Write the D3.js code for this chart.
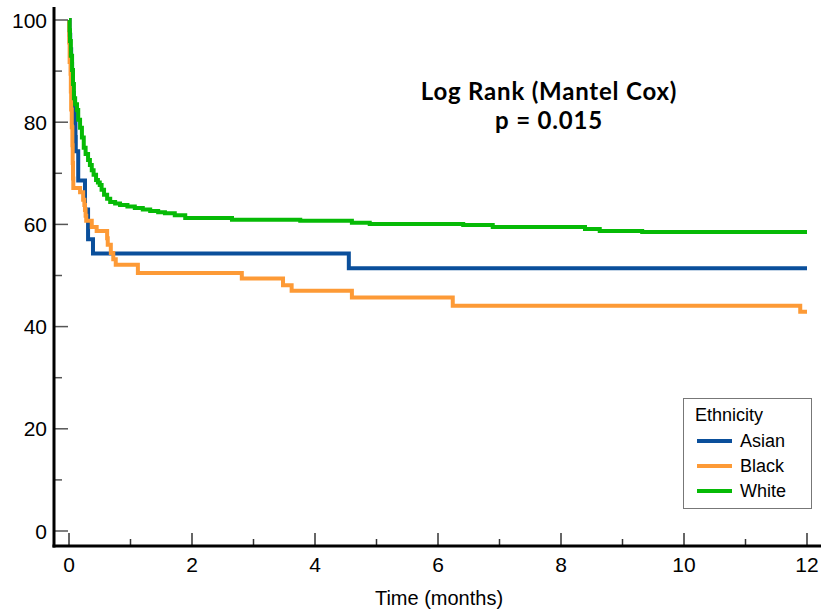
<!DOCTYPE html>
<html>
<head>
<meta charset="utf-8">
<script src="https://cdn.jsdelivr.net/npm/d3@7"></script>
<style>
  body { margin: 0; background: #fff; }
  svg { display: block; }
</style>
</head>
<body>
<div id="chart"></div>
<script>
// Kaplan-Meier steps: time (months) and survival (%) right after each step
var asianTime = [0, 0.01, 0.02, 0.035, 0.05, 0.065, 0.08, 0.095, 0.105, 0.11, 0.15, 0.26, 0.31, 0.39, 4.55, 12];
var asianSurv = [100, 97.1, 94.3, 91.4, 88.6, 85.7, 82.9, 80.0, 77.1, 74.3, 68.6, 62.9, 57.1, 54.3, 51.4, 51.4];

var blackTime = [0, 0.003, 0.01, 0.025, 0.03, 0.035, 0.045, 0.055, 0.06, 0.065, 0.07, 0.18, 0.23, 0.25, 0.26, 0.27, 0.28, 0.37, 0.45, 0.62, 0.63, 0.68, 0.72, 0.76, 1.12, 2.81, 3.48, 3.62, 4.60, 6.24, 11.89, 12];
var blackSurv = [100, 95.6, 91.8, 89.5, 86.0, 82.5, 79.0, 75.5, 72.0, 69.0, 67.1, 66.3, 64.8, 63.8, 62.8, 61.7, 60.7, 59.5, 58.7, 57.3, 56.0, 54.4, 53.2, 52.1, 50.5, 49.4, 48.1, 47.0, 45.7, 44.1, 42.9, 42.9];

var whiteTime = [0, 0.01, 0.016, 0.03, 0.05, 0.065, 0.08, 0.10, 0.13, 0.15, 0.18, 0.21, 0.24, 0.27, 0.31, 0.34, 0.37, 0.40, 0.44, 0.47, 0.50, 0.53, 0.57, 0.62, 0.67, 0.75, 0.83, 0.95, 1.07, 1.2, 1.32, 1.45, 1.56, 1.72, 1.89, 2.65, 3.76, 4.60, 4.89, 6.41, 6.89, 8.39, 8.63, 9.32, 12];
var whiteSurv = [100, 98, 95.9, 93, 90.2, 87.5, 84.7, 83.5, 82.4, 80.5, 78.9, 77, 75, 73.8, 72.6, 71.6, 70.6, 69.7, 68.7, 68.2, 67.7, 66.8, 65.8, 65.0, 64.4, 64.1, 63.8, 63.5, 63.2, 62.9, 62.6, 62.4, 62.2, 61.8, 61.25, 60.9, 60.7, 60.3, 60.1, 59.9, 59.5, 59.1, 58.7, 58.5, 58.5];

var groups = ["Asian", "Black", "White"];
var colors = ["#0a4f9b", "#fd9a36", "#06ba06"];
var xTicks = [0, 2, 4, 6, 8, 10, 12];
var yTicks = [0, 20, 40, 60, 80, 100];

var width = 821, height = 611;

var x = d3.scaleLinear().domain([0, 12]).range([69, 807]);
var y = d3.scaleLinear().domain([0, 100]).range([531, 20]);

var svg = d3.select("#chart").append("svg")
    .attr("width", width)
    .attr("height", height)
    .style("font-family", "'Liberation Sans', Arial, sans-serif");

// -- curves (blue under orange, green on top)
var series = [
  { name: "Asian", t: asianTime, s: asianSurv },
  { name: "Black", t: blackTime, s: blackSurv },
  { name: "White", t: whiteTime, s: whiteSurv }
];

var line = d3.line()
    .x(function(d) { return x(d[0]); })
    .y(function(d) { return y(d[1]); })
    .curve(d3.curveStepAfter);

svg.selectAll("path.km")
    .data(series)
  .enter().append("path")
    .attr("class", "km")
    .attr("fill", "none")
    .attr("stroke", function(d, i) { return colors[i]; })
    .attr("stroke-width", 4)
    .attr("d", function(d) { return line(d3.zip(d.t, d.s)); });

// -- y axis (ticks point inward)
var yMinor = d3.range(0, 101, 10);
svg.append("g").selectAll("line")
    .data(yMinor)
  .enter().append("line")
    .attr("x1", 54)
    .attr("x2", function(d) { return d % 20 === 0 ? 68 : 62; })
    .attr("y1", function(d) { return y(d); })
    .attr("y2", function(d) { return y(d); })
    .attr("stroke", "#555")
    .attr("stroke-width", 1.5);

svg.append("g").selectAll("text")
    .data(yTicks)
  .enter().append("text")
    .attr("x", 47)
    .attr("y", function(d) { return y(d); })
    .attr("dy", "0.36em")
    .attr("text-anchor", "end")
    .attr("font-size", 21)
    .text(function(d) { return d; });

// -- x axis (ticks point up)
var xMinor = d3.range(0, 13, 1);
svg.append("g").selectAll("line")
    .data(xMinor)
  .enter().append("line")
    .attr("x1", function(d) { return x(d); })
    .attr("x2", function(d) { return x(d); })
    .attr("y1", 546)
    .attr("y2", function(d) { return d % 2 === 0 ? 533 : 539; })
    .attr("stroke", "#333")
    .attr("stroke-width", 1.5);

svg.append("g").selectAll("text")
    .data(xTicks)
  .enter().append("text")
    .attr("x", function(d) { return x(d); })
    .attr("y", 572)
    .attr("text-anchor", "middle")
    .attr("font-size", 21)
    .text(function(d) { return d; });

svg.append("line")
    .attr("x1", 54).attr("x2", 54)
    .attr("y1", 7).attr("y2", 547.5)
    .attr("stroke", "#000").attr("stroke-width", 3);
svg.append("line")
    .attr("x1", 52.5).attr("x2", 821)
    .attr("y1", 546).attr("y2", 546)
    .attr("stroke", "#000").attr("stroke-width", 3);

svg.append("text")
    .attr("x", 439)
    .attr("y", 605)
    .attr("text-anchor", "middle")
    .attr("font-size", 20)
    .text("Time (months)");

// -- title
var title = svg.append("text")
    .attr("text-anchor", "middle")
    .attr("font-family", "Lato, 'Open Sans', sans-serif")
    .attr("font-weight", "bold")
    .attr("font-size", 24)
    .attr("letter-spacing", 0.8);
title.append("tspan").attr("x", 549).attr("y", 100).text("Log Rank (Mantel Cox)");
title.append("tspan").attr("x", 549).attr("y", 129).text("p = 0.015");

// -- legend
var legend = svg.append("g");
legend.append("rect")
    .attr("x", 683.5).attr("y", 398.5)
    .attr("width", 128).attr("height", 110)
    .attr("fill", "#fff")
    .attr("stroke", "#777")
    .attr("stroke-width", 1);
legend.append("text")
    .attr("x", 695).attr("y", 421)
    .attr("font-size", 18)
    .text("Ethnicity");
var rows = legend.selectAll("g.row")
    .data(groups)
  .enter().append("g")
    .attr("class", "row")
    .attr("transform", function(d, i) { return "translate(0," + (441 + i * 25) + ")"; });
rows.append("line")
    .attr("x1", 697).attr("x2", 732)
    .attr("stroke", function(d, i) { return colors[i]; })
    .attr("stroke-width", 4);
rows.append("text")
    .attr("x", 740)
    .attr("dy", "0.36em")
    .attr("font-size", 18)
    .text(function(d) { return d; });
</script>
</body>
</html>
